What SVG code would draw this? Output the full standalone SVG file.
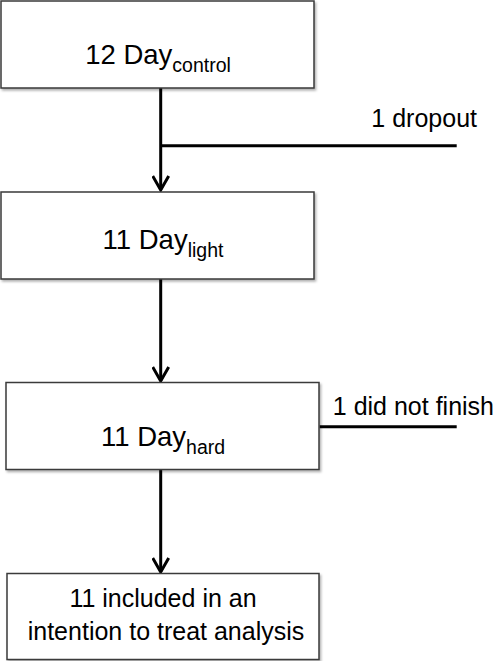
<svg xmlns="http://www.w3.org/2000/svg" width="496" height="661" viewBox="0 0 496 661">
<defs>
<style>
.box{fill:#fff;stroke:#3a3a3a;stroke-width:1.5;filter:url(#sh)}
.t{font-family:"Liberation Sans",Arial,sans-serif;fill:#000}
.main{font-size:27.5px}
.sub{font-size:19.5px}
.lbl{font-size:25px}
.c{stroke:#000;stroke-width:3;fill:none}
</style>
<filter id="sh" x="-5%" y="-5%" width="112%" height="115%">
<feDropShadow dx="1.5" dy="2" stdDeviation="1.2" flood-color="#000" flood-opacity="0.3"/>
</filter>
<marker id="ah" markerWidth="18" markerHeight="18" viewBox="0 0 18 18" refX="15" refY="9" orient="auto" markerUnits="userSpaceOnUse">
<path d="M1,1 L15,9 L1,17" fill="none" stroke="#000" stroke-width="3"/>
</marker>
</defs>
<rect width="496" height="661" fill="#fff"/>
<g id="connectors">
<line class="c" x1="160.7" y1="88" x2="160.7" y2="190" marker-end="url(#ah)"/>
<line class="c" x1="160.7" y1="145.7" x2="456.7" y2="145.7"/>
<line class="c" x1="160.7" y1="279" x2="160.7" y2="381" marker-end="url(#ah)"/>
<line class="c" x1="319.5" y1="426.7" x2="456.7" y2="426.7"/>
<line class="c" x1="160.7" y1="469.5" x2="160.7" y2="572" marker-end="url(#ah)"/>
<text class="t lbl" x="477" y="127" text-anchor="end">1 dropout</text>
<text class="t lbl" x="494" y="415" text-anchor="end">1 did not finish</text>
</g>
<g id="node-control">
<rect class="box" x="1" y="1" width="313" height="87"/>
<text class="t" x="158" y="64" text-anchor="middle"><tspan class="main">12 Day</tspan><tspan class="sub" dy="8">control</tspan></text>
</g>
<g id="node-light">
<rect class="box" x="1" y="192" width="313" height="87"/>
<text class="t" x="163" y="249" text-anchor="middle"><tspan class="main">11 Day</tspan><tspan class="sub" dy="8">light</tspan></text>
</g>
<g id="node-hard">
<rect class="box" x="6" y="382.5" width="313" height="87"/>
<text class="t" x="163" y="446" text-anchor="middle"><tspan class="main">11 Day</tspan><tspan class="sub" dy="8">hard</tspan></text>
</g>
<g id="node-itt">
<rect class="box" x="7" y="573.5" width="312" height="86"/>
<text class="t lbl" x="163" y="607" text-anchor="middle">11 included in an</text>
<text class="t lbl" x="166" y="640" text-anchor="middle">intention to treat analysis</text>
</g>
</svg>
